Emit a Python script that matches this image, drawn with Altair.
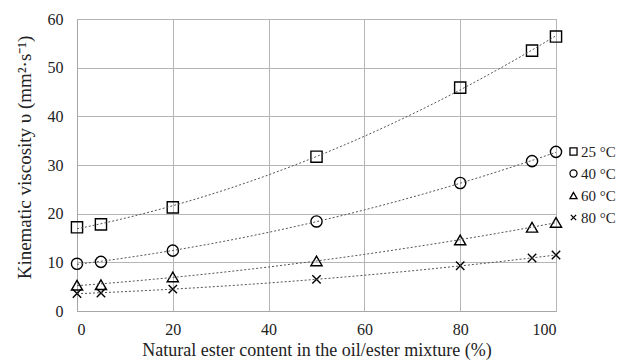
import altair as alt
import pandas as pd

content = [0, 5, 20, 50, 80, 95, 100]
v25 = [17.2, 17.8, 21.3, 31.7, 45.9, 53.5, 56.4]
v40 = [9.7, 10.1, 12.4, 18.4, 26.3, 30.8, 32.7]
v60 = [5.3, 5.4, 7.0, 10.3, 14.6, 17.2, 18.2]
v80 = [3.6, 3.7, 4.5, 6.5, 9.3, 10.9, 11.5]
series_names = ["25 °C", "40 °C", "60 °C", "80 °C"]

rows = []
for name, vals in zip(series_names, [v25, v40, v60, v80]):
    for c, v in zip(content, vals):
        rows.append({"x": c, "v": v, "series": name})
df = pd.DataFrame(rows)

FONT = "Liberation Serif"
xenc = alt.X("x:Q", scale=alt.Scale(domain=[0, 100], nice=False),
             axis=alt.Axis(values=[0, 20, 40, 60, 80, 100],
                           title="Natural ester content in the oil/ester mixture (%)"))
yenc = alt.Y("v:Q", scale=alt.Scale(domain=[0, 60], nice=False),
             axis=alt.Axis(values=[0, 10, 20, 30, 40, 50, 60],
                           title="Kinematic viscosity υ (mm²·s⁻¹)",
                           titleX=-53, titleY=138, titleBaseline="middle",
                           titleAlign="center", titleAngle=270, titleFontSize=19))

trend = alt.Chart(df).transform_regression(
    "x", "v", groupby=["series"], method="poly", order=2, extent=[0, 100]
).mark_line(color="#555555", strokeWidth=1, strokeDash=[2, 2]).encode(
    x="x:Q", y="v:Q", detail="series:N"
)

points = alt.Chart(df).mark_point(filled=False, color="black", strokeWidth=1.4,
                                  opacity=1, size=125).encode(
    x=xenc, y=yenc,
    shape=alt.Shape("series:N",
                    scale=alt.Scale(domain=series_names,
                                    range=["square", "circle", "triangle-up",
                                           "M-0.75,-0.75L0.75,0.75M-0.75,0.75L0.75,-0.75"]),
                    legend=alt.Legend(title=None, orient="none", legendX=489, legendY=125,
                                      padding=0, symbolSize=50, symbolStrokeWidth=1.3,
                                      symbolStrokeColor="black", symbolFillColor="transparent",
                                      labelFont=FONT, labelFontSize=15, labelColor="#222222",
                                      rowPadding=6, labelOffset=0, labelLimit=80)),
)

chart = alt.layer(points, trend).properties(
    width=479, height=292,
    autosize=alt.AutoSizeParams(type="none"),
    padding={"left": 69, "top": 11, "right": 66, "bottom": 50},
).configure_view(stroke="#a6a6a6", strokeWidth=1).configure_axis(
    labelFont=FONT, titleFont=FONT, labelFontSize=16, titleFontSize=18,
    labelColor="#222222", titleColor="#222222", titleFontWeight="normal",
    gridColor="#b5b5b5", gridWidth=1, domainColor="#a6a6a6", ticks=False,
).configure_axisY(labelPadding=14, grid=True).configure_axisX(
    labelPadding=10, titlePadding=4, grid=True
)

chart.save("out.html", embed_options={"renderer": "svg", "actions": False})
